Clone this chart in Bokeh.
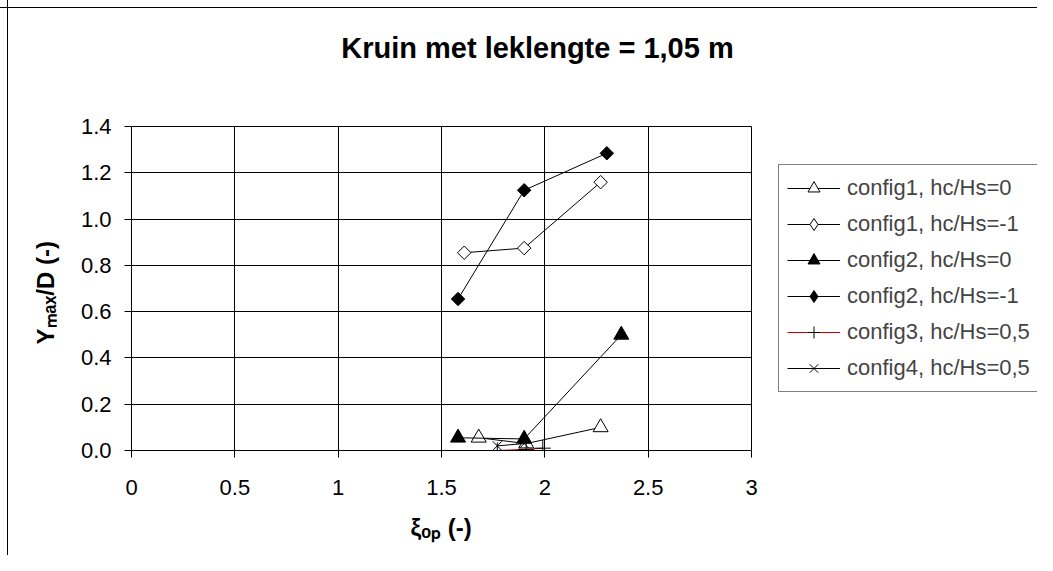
import math
from bokeh.plotting import figure
from bokeh.models import Legend, LegendItem, FixedTicker, Range1d, Label, Title
from bokeh.embed import file_html
from bokeh.resources import INLINE

# ---------------- data ----------------
title_text = "Kruin met leklengte = 1,05 m"
x_label = "ξₒₚ (-)"
y_label = "Yₘₐₓ/D (-)"

x_ticks = [0, 0.5, 1, 1.5, 2, 2.5, 3]
x_tick_labels = ["0", "0.5", "1", "1.5", "2", "2.5", "3"]
y_ticks = [0, 0.2, 0.4, 0.6, 0.8, 1.0, 1.2, 1.4]
y_tick_labels = ["0.0", "0.2", "0.4", "0.6", "0.8", "1.0", "1.2", "1.4"]

series_names = [
    "config1, hc/Hs=0",
    "config1, hc/Hs=-1",
    "config2, hc/Hs=0",
    "config2, hc/Hs=-1",
    "config3, hc/Hs=0,5",
    "config4, hc/Hs=0,5",
]

c1_h0_x = [1.68, 1.91, 2.27]
c1_h0_y = [0.055, 0.03, 0.10]

c1_hm1_x = [1.61, 1.90, 2.27]
c1_hm1_y = [0.855, 0.875, 1.16]

c2_h0_x = [1.58, 1.90, 2.37]
c2_h0_y = [0.055, 0.05, 0.50]

c2_hm1_x = [1.58, 1.90, 2.30]
c2_hm1_y = [0.655, 1.125, 1.285]

c3_x = [1.77, 1.91, 1.99]
c3_y = [0.0, 0.005, 0.01]

c4_x = [1.77, 1.90]
c4_y = [0.02, 0.03]

FONT = "Liberation Sans"

# ---------------- layout ----------------
W, H = 1037, 555
LEFT, BOTTOM = 131, 102          # axes panel sizes
PLOT_W, PLOT_H = 620, 326        # size of the gridded plot area
X_MAX, Y_MAX = 3.0, 1.4
FRAME_W, FRAME_H = W - LEFT, H - BOTTOM
px_x = PLOT_W / X_MAX
px_y = PLOT_H / Y_MAX

p = figure(width=W, height=H, output_backend="svg", toolbar_location=None,
           x_range=Range1d(0, FRAME_W / px_x), y_range=Range1d(0, FRAME_H / px_y),
           min_border_left=LEFT, min_border_right=0,
           min_border_top=0, min_border_bottom=BOTTOM)

# chart-area border (left and top edges) drawn as the page background behind a transparent canvas
p.styles = {"background": (
    "linear-gradient(to right, transparent 7px, #000 7px, #000 8px, transparent 8px), "
    "linear-gradient(to bottom, transparent 7px, #000 7px, #000 8px, transparent 8px), "
    "#ffffff")}
p.background_fill_alpha = 0
p.border_fill_alpha = 0
p.outline_line_color = None

# axes
for ax, ticks, labels, bnd in ((p.xaxis, x_ticks, x_tick_labels, (0, X_MAX)),
                               (p.yaxis, y_ticks, y_tick_labels, (0, Y_MAX))):
    ax.ticker = FixedTicker(ticks=ticks)
    ax.bounds = bnd
    ax.major_label_overrides = {t: l for t, l in zip(ticks, labels)}
    ax.major_label_text_font = FONT
    ax.major_label_text_font_size = "22px"
    ax.major_label_text_color = "black"
    ax.axis_line_color = "black"
    ax.major_tick_line_color = "black"
    ax.major_tick_in = 0
    ax.major_tick_out = 7
    ax.minor_tick_line_color = None
p.xaxis.major_label_standoff = 22
p.yaxis.major_label_standoff = 13

# axis titles as panel titles so they sit under / beside the gridded area only
p.add_layout(Title(text=x_label, align="left", offset=279, standoff=29,
                   text_font=FONT, text_font_size="24px", text_font_style="bold",
                   text_color="black"), "below")
p.add_layout(Title(text=y_label, align="left", offset=106, standoff=38,
                   text_font=FONT, text_font_size="24px", text_font_style="bold",
                   text_color="black"), "left")

p.xgrid.ticker = FixedTicker(ticks=x_ticks)
p.ygrid.ticker = FixedTicker(ticks=y_ticks)
p.xgrid.bounds = (0, X_MAX)
p.xgrid.cross_bounds = (0, Y_MAX)
p.ygrid.bounds = (0, Y_MAX)
p.ygrid.cross_bounds = (0, X_MAX)
for g in (p.xgrid, p.ygrid):
    g.grid_line_color = "black"
    g.grid_line_width = 1

# series
items = []
NAN = float("nan")

def add_series(name, xs, ys, marker, size, fill, line_color="black", angle=0.0,
               legend_marker=None, legend_size=None):
    ln = p.line(xs, ys, line_color=line_color, line_width=1)
    sc = p.scatter(xs, ys, marker=marker, size=size, fill_color=fill,
                   line_color="black", line_width=1, angle=angle)
    if legend_marker is None:
        rs = [ln, sc]
    else:
        # legend-only marker (legend glyphs ignore the angle of the plotted one)
        lg = p.scatter([NAN], [NAN], marker=legend_marker, size=legend_size,
                       fill_color=fill, line_color="black", line_width=1)
        rs = [ln, lg]
    items.append(LegendItem(label=name, renderers=rs))

add_series(series_names[0], c1_h0_x, c1_h0_y, "triangle", 15, "white")
add_series(series_names[1], c1_hm1_x, c1_hm1_y, "square", 9.5, "white", angle=math.pi / 4,
           legend_marker="diamond", legend_size=15)
add_series(series_names[2], c2_h0_x, c2_h0_y, "triangle", 15, "black")
add_series(series_names[3], c2_hm1_x, c2_hm1_y, "square", 9.5, "black", angle=math.pi / 4,
           legend_marker="diamond", legend_size=15)
add_series(series_names[4], c3_x, c3_y, "cross", 16, None, line_color="#CC0000")
add_series(series_names[5], c4_x, c4_y, "x", 13, None)

legend = Legend(items=items, location=(647, 58),
                label_text_font=FONT, label_text_font_size="22px",
                glyph_width=53, glyph_height=30, label_height=30,
                spacing=6, padding=8, margin=0, label_standoff=7,
                border_line_color="black", border_line_width=1,
                background_fill_color="white", background_fill_alpha=1)
p.add_layout(legend, "center")

# title (centre 406 px right of the y axis, baseline 405 px above the x axis)
p.add_layout(Label(x=406 / px_x, y=405 / px_y, text=title_text,
                   text_font=FONT, text_font_size="29px", text_font_style="bold",
                   text_color="black", text_align="center", text_baseline="alphabetic"))

open("out.html", "w").write(file_html(p, INLINE))
